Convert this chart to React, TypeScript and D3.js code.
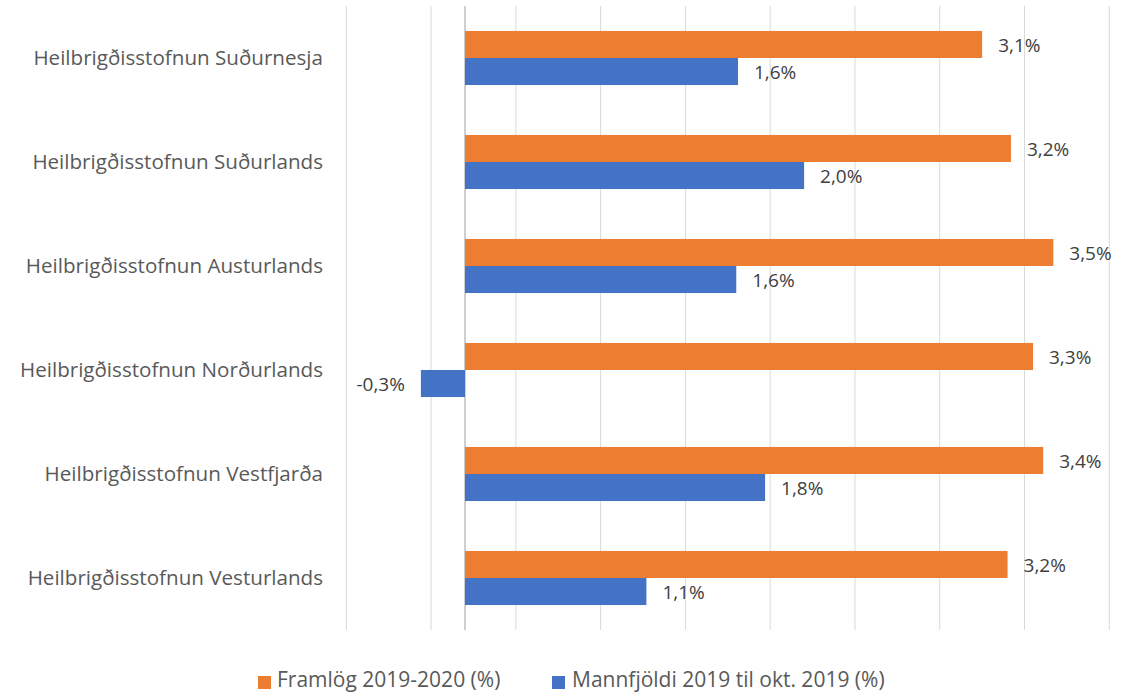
import React from "react";
import * as d3 from "d3";

const categories = [
  "Heilbrigðisstofnun Suðurnesja",
  "Heilbrigðisstofnun Suðurlands",
  "Heilbrigðisstofnun Austurlands",
  "Heilbrigðisstofnun Norðurlands",
  "Heilbrigðisstofnun Vestfjarða",
  "Heilbrigðisstofnun Vesturlands",
];
const framlog = [3.05, 3.22, 3.47, 3.35, 3.41, 3.2];
const mannfjoldi = [1.61, 2.0, 1.6, -0.26, 1.77, 1.07];
const framlogLabels = ["3,1%", "3,2%", "3,5%", "3,3%", "3,4%", "3,2%"];
const mannfjoldiLabels = ["1,6%", "2,0%", "1,6%", "-0,3%", "1,8%", "1,1%"];
const seriesNames = ["Framlög 2019-2020 (%)", "Mannfjöldi 2019 til okt. 2019 (%)"];
const gridTicks = [-0.7, -0.2, 0.3, 0.8, 1.3, 1.8, 2.3, 2.8, 3.3, 3.8];

const W = 1134;
const H = 694;
const ORANGE = "#ED7D31";
const BLUE = "#4472C4";
const FONT = "'Open Sans', sans-serif";

export default function App() {
  const x = d3.scaleLinear().domain([-0.7, 3.8]).range([346.3, 1109.3]);
  const y = d3
    .scaleBand<string>()
    .domain(categories)
    .range([6, 630])
    .paddingInner(0.48)
    .paddingOuter(0.24);
  const bw = y.bandwidth() / 2;
  const series = [
    { vals: framlog, labels: framlogLabels, color: ORANGE, off: 0 },
    { vals: mannfjoldi, labels: mannfjoldiLabels, color: BLUE, off: bw },
  ];
  return (
    <svg
      width={W}
      height={H}
      style={{ position: "absolute", left: 0, top: 0, background: "#fff" }}
    >
      {gridTicks.map((t) => (
        <line
          key={t}
          x1={x(t)}
          x2={x(t)}
          y1={6}
          y2={630}
          stroke="#d9d9d9"
          strokeWidth={1}
        />
      ))}
      <line x1={x(0)} x2={x(0)} y1={6} y2={630} stroke="#cfcfcf" strokeWidth={2} />
      {series.map((s, si) =>
        categories.map((c, i) => {
          const v = s.vals[i];
          const y0 = (y(c) as number) + s.off;
          const x0 = x(Math.min(0, v));
          const x1 = x(Math.max(0, v));
          return (
            <g key={si + "-" + c}>
              <rect x={x0} y={y0} width={x1 - x0} height={bw} fill={s.color} />
              <text
                x={v >= 0 ? x1 + 16 : x0 - 16}
                y={y0 + bw / 2 + 0.5}
                dy="0.35em"
                textAnchor={v >= 0 ? "start" : "end"}
                fontFamily={FONT}
                fontSize={19}
                fill="#404040"
              >
                {s.labels[i]}
              </text>
            </g>
          );
        })
      )}
      {categories.map((c) => (
        <text
          key={c}
          x={323}
          y={(y(c) as number) + y.bandwidth() / 2}
          dy="0.35em"
          textAnchor="end"
          fontFamily={FONT}
          fontSize={20.6}
          fill="#595959"
        >
          {c}
        </text>
      ))}
      <g>
        <rect x={258} y={676} width={13} height={13} fill={ORANGE} />
        <text x={277} y={680} dy="0.35em" fontFamily={FONT} fontSize={21} fill="#595959">
          {seriesNames[0]}
        </text>
        <rect x={552} y={676} width={13} height={13} fill={BLUE} />
        <text x={572} y={680} dy="0.35em" fontFamily={FONT} fontSize={21} fill="#595959">
          {seriesNames[1]}
        </text>
      </g>
    </svg>
  );
}
